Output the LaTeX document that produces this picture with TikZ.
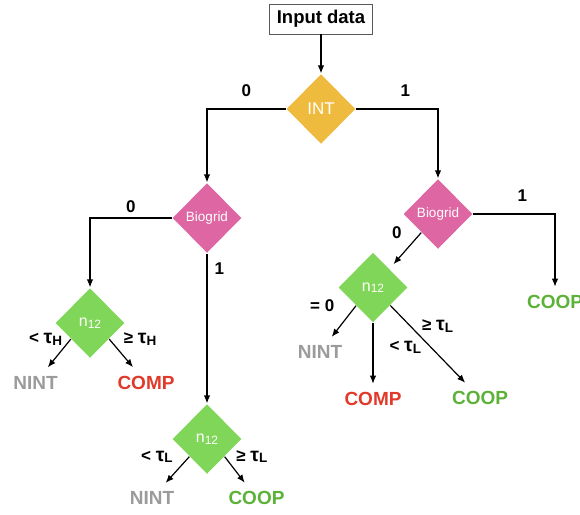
\documentclass[tikz,border=0pt]{standalone}
\usepackage{fontspec}
\setmainfont{Liberation Sans}
\usetikzlibrary{shapes.geometric, positioning, arrows.meta}

\definecolor{intcol}{RGB}{239,187,62}
\definecolor{biocol}{RGB}{222,103,163}
\definecolor{ncol}{RGB}{128,214,88}
\definecolor{compcol}{RGB}{225,57,42}
\definecolor{coopcol}{RGB}{92,178,56}
\definecolor{nintcol}{RGB}{155,155,155}

\newcommand{\nsub}{n\raisebox{-1.5pt}{\fontsize{12}{12}\selectfont 12}}
\newcommand{\thr}[2]{#1 {\fontsize{19.5}{19.5}\selectfont τ}\raisebox{-1.5pt}{\fontsize{13.5}{13.5}\selectfont #2}}

\begin{document}
\begin{tikzpicture}[on grid, line width=1.2pt,
    >={Latex[length=8pt,width=6.5pt]},
    dec/.style={diamond, minimum width=69pt, minimum height=70pt,
        inner sep=0pt, text=white},
    lbl/.style={font=\bfseries\fontsize{17}{17}\selectfont, inner sep=1pt},
    leaf/.style={font=\bfseries\fontsize{19}{19}\selectfont,
        inner xsep=2pt, inner ysep=8pt}]
\useasboundingbox (0,0) rectangle (580pt,-514pt);

\node[draw=black!65, line width=0.8pt, minimum width=103pt,
    minimum height=30pt, font=\bfseries\fontsize{18.5}{18.5}\selectfont]
    (input) at (321pt,-19pt) {Input data};
\node[dec, fill=intcol, below=90pt of input,
    font=\fontsize{17}{17}\selectfont] (int) {INT};
\node[dec, fill=biocol, below left=109pt and 114pt of int,
    font=\fontsize{13.5}{13.5}\selectfont] (bioL) {Biogrid};
\node[dec, fill=biocol, below right=105pt and 117pt of int,
    font=\fontsize{13.5}{13.5}\selectfont] (bioR) {Biogrid};
\node[dec, fill=ncol, below left=105pt and 117pt of bioL,
    font=\fontsize{16}{16}\selectfont] (nL) {\nsub};
\node[dec, fill=ncol, below=221pt of bioL,
    font=\fontsize{16}{16}\selectfont] (nB) {\nsub};
\node[dec, fill=ncol, below left=73.5pt and 65pt of bioR,
    font=\fontsize{16}{16}\selectfont] (nR) {\nsub};

% outcomes
\node[leaf, text=nintcol, below left=59.5pt and 54.5pt of nL] (nintL) {NINT};
\node[leaf, text=compcol, below right=59.5pt and 56pt of nL] (compL) {COMP};
\node[leaf, text=nintcol, below left=59pt and 55pt of nB] (nintB) {NINT};
\node[leaf, text=coopcol, below right=59pt and 49.5pt of nB] (coopB) {COOP};
\node[leaf, text=nintcol, below left=64.5pt and 53pt of nR] (nintR) {NINT};
\node[leaf, text=compcol, below=111.5pt of nR] (compR) {COMP};
\node[leaf, text=coopcol, below right=110.5pt and 107pt of nR] (coopR) {COOP};
\node[leaf, text=coopcol, below right=88pt and 117pt of bioR] (coopT) {COOP};

\draw[->] (input) -- (int);
\draw[->] (int.west) -| node[lbl, pos=0.25, above=11pt] {0} (bioL.north);
\draw[->] (int.east) -| node[lbl, pos=0.3, above=11pt] {1} (bioR.north);
\draw[->] (bioL.west) -| node[lbl, pos=0.25, above=4pt] {0} (nL.north);
\draw[->] (bioL.south) -- node[lbl, pos=0.1, right=6pt] {1} (nB.north);
\draw[->] (bioR.east) -| node[lbl, pos=0.3, above=11pt] {1} (coopT);
\draw[->, shorten >=6pt] (bioR.228) -- node[lbl, at start, left=18pt] {0} (nR);

\draw[->] (nL.220) -- node[lbl, at start, left=7pt] {\thr{<}{H}} (nintL);
\draw[->] (nL.320) -- node[lbl, at start, right=13pt] {\thr{≥}{H}} (compL);
\draw[->] (nB.225) -- node[lbl, at start, left=15pt] {\thr{<}{L}} (nintB);
\draw[->] (nB.315) -- node[lbl, at start, right=10pt] {\thr{≥}{L}} (coopB);
\draw[->] (nR.227) -- node[lbl, at start, left=20pt] {= 0} (nintR);
\draw[->] (nR.south) -- (compR);
\draw[->] (nR.314) -- node[lbl, pos=0.27, right=10pt] {\thr{≥}{L}}
    node[lbl, pos=0.54, left=8pt] {\thr{<}{L}} (coopR);
\end{tikzpicture}
\end{document}
